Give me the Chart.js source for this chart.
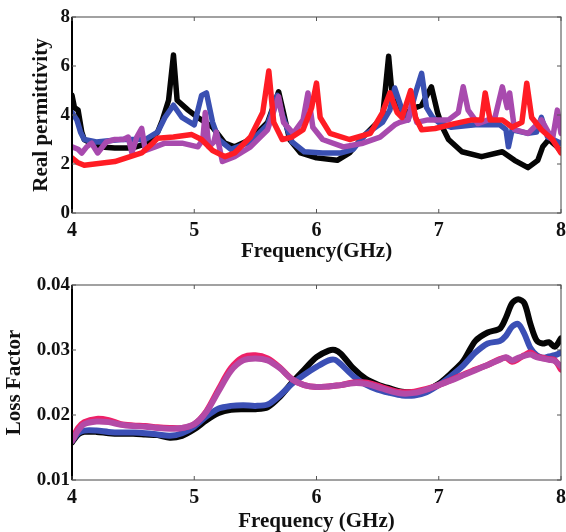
<!DOCTYPE html>
<html>
<head>
<meta charset="utf-8">
<script src="https://cdn.jsdelivr.net/npm/chart.js@4.4.1/dist/chart.umd.min.js"></script>
<style>
  html, body { margin: 0; padding: 0; background: #fff; }
  .wrap { position: relative; width: 566px; height: 532px; }
  .wrap canvas { position: absolute; left: 0; }
  #top { top: 0; }
  #bottom { top: 266px; }
</style>
</head>
<body>
<div class="wrap">
  <canvas id="top" width="566" height="266"></canvas>
  <canvas id="bottom" width="566" height="266"></canvas>
</div>
<script>
// axis ticks
const freqTicks = [4, 5, 6, 7, 8];
const permTicks = [0, 2, 4, 6, 8];
const lossTicks = [0.01, 0.02, 0.03, 0.04];

// top panel: real permittivity (each trace has its own frequency samples)
const blackFreq = [4.00,4.02,4.05,4.08,4.10,4.21,4.35,4.49,4.62,4.70,4.74,4.79,4.83,4.86,4.95,5.03,5.15,5.25,5.33,5.46,5.60,5.69,5.73,5.78,5.87,6.00,6.17,6.27,6.38,6.54,6.59,6.62,6.70,6.81,6.86,6.94,6.99,7.03,7.08,7.19,7.35,7.52,7.62,7.73,7.81,7.85,7.90,7.97,8.00];
const blackPerm = [4.8,4.3,4.2,3.3,3.0,2.7,2.65,2.65,2.85,3.3,3.8,4.6,6.45,4.6,4.2,3.9,3.5,2.85,2.7,3.0,3.7,4.95,4.1,3.0,2.45,2.25,2.15,2.45,3.1,3.9,6.4,4.75,4.0,4.3,4.4,5.15,4.1,3.5,3.0,2.5,2.3,2.5,2.15,1.85,2.15,2.7,3.0,2.7,2.5];

const blueFreq = [4.00,4.04,4.07,4.10,4.20,4.40,4.60,4.70,4.76,4.83,4.90,5.00,5.06,5.10,5.15,5.20,5.30,5.46,5.60,5.68,5.72,5.80,5.90,6.05,6.20,6.30,6.40,6.54,6.60,6.64,6.70,6.75,6.81,6.86,6.90,6.95,7.00,7.10,7.30,7.50,7.55,7.57,7.60,7.73,7.80,7.84,7.89,8.00];
const bluePerm = [4.1,3.8,3.3,3.0,2.9,3.0,3.0,3.3,3.9,4.4,3.9,3.6,4.8,4.9,3.7,3.0,2.6,2.9,3.6,4.8,4.0,2.9,2.5,2.45,2.45,2.6,3.2,3.7,4.2,5.1,4.2,3.8,4.9,5.7,4.3,3.9,3.7,3.5,3.6,3.6,3.4,2.7,3.4,3.25,3.3,3.9,3.1,2.85];

const redFreq = [4.00,4.05,4.10,4.35,4.57,4.65,4.70,4.83,4.98,5.06,5.15,5.25,5.33,5.46,5.56,5.61,5.65,5.72,5.80,5.89,5.96,6.00,6.03,6.11,6.27,6.44,6.54,6.60,6.66,6.70,6.77,6.81,6.86,6.97,7.13,7.27,7.35,7.38,7.42,7.52,7.60,7.68,7.72,7.76,7.84,7.93,8.00];
const redPerm = [2.25,2.05,1.95,2.1,2.45,2.8,3.05,3.1,3.2,3.0,2.55,2.3,2.45,3.1,4.1,5.8,3.7,3.0,3.1,3.4,4.3,5.3,3.9,3.25,3.0,3.25,4.1,4.9,4.1,3.9,5.0,3.9,3.4,3.45,3.65,3.8,3.8,4.9,3.8,3.8,3.5,3.7,5.3,3.9,3.4,3.0,2.45];

const purpleFreq = [4.00,4.05,4.08,4.12,4.16,4.21,4.28,4.35,4.42,4.46,4.49,4.53,4.57,4.60,4.68,4.76,4.90,5.03,5.07,5.09,5.12,5.16,5.18,5.23,5.33,5.46,5.60,5.66,5.69,5.73,5.81,5.89,5.93,5.97,6.05,6.22,6.38,6.52,6.64,6.68,6.75,6.78,6.82,6.91,7.08,7.16,7.20,7.24,7.32,7.46,7.52,7.56,7.58,7.62,7.73,7.84,7.93,7.97,8.00];
const purplePerm = [2.7,2.6,2.45,2.7,2.85,2.45,2.9,3.0,3.0,3.1,2.45,3.1,3.45,2.55,2.7,2.85,2.85,2.7,3.0,4.1,2.7,2.9,3.3,2.1,2.3,2.7,3.4,4.3,4.75,3.7,3.25,3.8,4.9,3.5,3.0,2.7,2.85,3.1,3.6,3.7,3.8,4.5,3.7,3.8,3.8,4.1,5.15,4.2,3.65,3.9,5.15,4.3,4.9,3.4,3.25,3.8,3.0,4.2,3.25];

// bottom panel: loss factor on a shared frequency grid
const lossFreq = [4.0,4.05,4.1,4.2,4.3,4.4,4.5,4.6,4.7,4.8,4.9,5.0,5.1,5.2,5.3,5.4,5.5,5.6,5.7,5.8,5.9,6.0,6.1,6.15,6.2,6.3,6.4,6.5,6.6,6.7,6.8,6.9,7.0,7.1,7.2,7.3,7.4,7.5,7.55,7.6,7.65,7.7,7.75,7.8,7.85,7.9,7.95,8.0];
const blackLoss = [.0158,.0170,.0174,.0174,.0172,.0171,.0171,.0170,.0169,.0165,.0168,.0178,.0192,.0203,.0208,.0209,.0209,.0212,.0228,.0250,.0270,.0289,.0299,.0300,.0294,.0272,.0256,.0247,.0241,.0236,.0235,.0238,.0248,.0264,.0283,.0314,.0327,.0333,.0350,.0372,.0378,.0372,.0340,.0315,.0310,.0312,.0305,.0318];
const blueLoss = [.0160,.0172,.0176,.0176,.0174,.0173,.0173,.0172,.0170,.0168,.0172,.0182,.0198,.0210,.0214,.0215,.0214,.0216,.0230,.0248,.0262,.0274,.0284,.0285,.0278,.0260,.0247,.0239,.0234,.0230,.0230,.0235,.0246,.0260,.0276,.0296,.0310,.0314,.0322,.0336,.0340,.0325,.0303,.0292,.0288,.0290,.0292,.0296];
const redLoss = [.0162,.0180,.0189,.0194,.0192,.0186,.0184,.0183,.0181,.0180,.0180,.0186,.0206,.0240,.0272,.0289,.0292,.0287,.0273,.0255,.0246,.0243,.0244,.0245,.0246,.0250,.0250,.0245,.0239,.0235,.0236,.0240,.0246,.0254,.0262,.0270,.0277,.0286,.0288,.0282,.0286,.0292,.0296,.0290,.0288,.0286,.0284,.0270];
const magentaLoss = [.0160,.0176,.0186,.0190,.0189,.0185,.0183,.0182,.0180,.0179,.0180,.0186,.0205,.0237,.0268,.0284,.0287,.0284,.0272,.0255,.0246,.0243,.0244,.0245,.0246,.0249,.0248,.0243,.0237,.0233,.0234,.0239,.0246,.0253,.0261,.0269,.0277,.0285,.0289,.0284,.0288,.0291,.0293,.0289,.0287,.0285,.0283,.0275];

const FONT = "'Liberation Serif', 'Times New Roman', serif";

function pts(xs, ys) { return xs.map((x, i) => ({ x, y: ys[i] })); }

// Chart.js paints dataset 0 last, so lists below go top layer first
function line(data, color, width, tension) {
  return {
    data,
    borderColor: color,
    backgroundColor: color,
    borderWidth: width,
    pointRadius: 0,
    tension: tension,
    borderJoinStyle: "round",
    borderCapStyle: "round",
  };
}

// frame around the plot area plus small inward ticks
const framePlugin = {
  id: "frame",
  afterDatasetsDraw(chart) {
    const { ctx, chartArea: a, scales } = chart;
    ctx.save();
    ctx.strokeStyle = "#444";
    ctx.lineWidth = 1;
    ctx.strokeRect(a.left, a.top, a.right - a.left, a.bottom - a.top);
    ctx.strokeStyle = "#000";
    ctx.lineWidth = 2;
    ctx.beginPath();
    ctx.moveTo(a.left, a.top);
    ctx.lineTo(a.left, a.bottom);
    ctx.stroke();
    ctx.lineWidth = 1;
    ctx.strokeStyle = "#555";
    ctx.beginPath();
    for (const t of scales.x.ticks) {
      const px = scales.x.getPixelForValue(t.value);
      ctx.moveTo(px, a.bottom); ctx.lineTo(px, a.bottom - 4);
      ctx.moveTo(px, a.top); ctx.lineTo(px, a.top + 4);
    }
    for (const t of scales.y.ticks) {
      const py = scales.y.getPixelForValue(t.value);
      ctx.moveTo(a.left, py); ctx.lineTo(a.left + 4, py);
      ctx.moveTo(a.right, py); ctx.lineTo(a.right - 4, py);
    }
    ctx.stroke();
    ctx.restore();
  },
};

function makeChart(id, datasets, opts) {
  const el = document.getElementById(id);
  return new Chart(el.getContext("2d"), {
    type: "line",
    data: { datasets },
    options: {
      responsive: false,
      animation: false,
      parsing: false,
      layout: { padding: { left: 0, right: 5, top: opts.padTop, bottom: 0 } },
      plugins: { legend: { display: false }, tooltip: { enabled: false } },
      scales: {
        x: {
          type: "linear",
          min: 4, max: 8,
          afterBuildTicks: (s) => { s.ticks = freqTicks.map((v) => ({ value: v })); },
          afterFit: (s) => { s.height = opts.xHeight; s.paddingLeft = 0; s.paddingRight = 0; },
          grid: { display: false, drawTicks: false },
          border: { display: false },
          ticks: {
            color: "#111", padding: 6,
            font: { family: FONT, size: 20, weight: "bold" },
            callback: (v) => String(v),
          },
          title: {
            display: true, text: opts.xTitle, color: "#111",
            font: { family: FONT, size: 21, weight: "bold", lineHeight: 1 },
            padding: { top: 0, bottom: opts.xTitlePad },
          },
        },
        y: {
          type: "linear",
          min: opts.yMin, max: opts.yMax,
          afterBuildTicks: (s) => { s.ticks = opts.yTicks.map((v) => ({ value: v })); },
          afterFit: (s) => { s.width = 72; s.paddingTop = 0; s.paddingBottom = 0; },
          grid: { display: false, drawTicks: false },
          border: { display: false },
          ticks: {
            color: "#111", padding: 2,
            font: { family: FONT, size: 19, weight: "bold" },
            callback: opts.yFmt,
          },
          title: {
            display: true, text: opts.yTitle, color: "#111",
            font: { family: FONT, size: 21, weight: "bold", lineHeight: 1 },
            padding: { top: opts.yTitlePad, bottom: 0 },
          },
        },
      },
    },
    plugins: [framePlugin],
  });
}

makeChart("top", [
  line(pts(redFreq, redPerm), "#ff1c24", 5.5, 0),
  line(pts(purpleFreq, purplePerm), "#a84aae", 5.5, 0),
  line(pts(blueFreq, bluePerm), "#3a50b2", 5.5, 0),
  line(pts(blackFreq, blackPerm), "#050505", 5.5, 0),
], {
  padTop: 17, xHeight: 53, xTitle: "Frequency(GHz)", xTitlePad: 4,
  yMin: 0, yMax: 8, yTicks: permTicks, yFmt: (v) => String(v),
  yTitle: "Real permittivity", yTitlePad: 31,
});

makeChart("bottom", [
  line(pts(lossFreq, magentaLoss), "#b44aa6", 6, 0.3),
  line(pts(lossFreq, redLoss), "#ee2068", 6, 0.3),
  line(pts(lossFreq, blueLoss), "#3b4fb5", 6, 0.3),
  line(pts(lossFreq, blackLoss), "#050505", 6, 0.3),
], {
  padTop: 19, xHeight: 52, xTitle: "Frequency (GHz)", xTitlePad: 0,
  yMin: 0.01, yMax: 0.04, yTicks: lossTicks, yFmt: (v) => Number(v).toFixed(2),
  yTitle: "Loss Factor", yTitlePad: 4,
});
</script>
</body>
</html>
